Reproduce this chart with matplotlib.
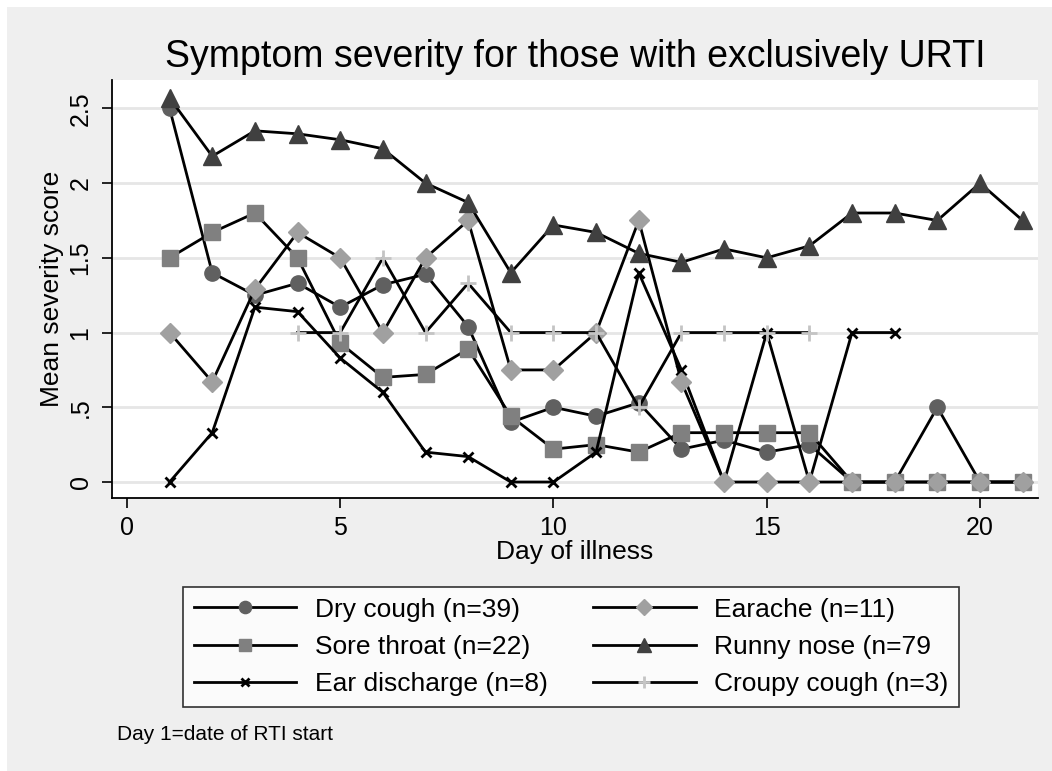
import matplotlib
matplotlib.use("Agg")
from matplotlib import pyplot as plt
from matplotlib.patches import Rectangle

plt.rcParams["font.family"] = ["Liberation Sans", "DejaVu Sans"]

days = list(range(1, 22))

dry_cough = [2.5, 1.40, 1.25, 1.33, 1.17, 1.32, 1.39, 1.04, 0.40, 0.50, 0.44,
             0.53, 0.22, 0.28, 0.20, 0.25, 0, 0, 0.5, 0, 0]
sore_throat = [1.5, 1.67, 1.8, 1.5, 0.93, 0.70, 0.72, 0.89, 0.44, 0.22, 0.25,
               0.20, 0.33, 0.33, 0.33, 0.33, 0, 0, 0, 0, 0]
earache = [1.0, 0.67, 1.29, 1.67, 1.5, 1.0, 1.5, 1.75, 0.75, 0.75, 1.0,
           1.75, 0.67, 0, 0, 0, 0, 0, 0, 0, 0]
runny_nose = [2.57, 2.18, 2.35, 2.33, 2.29, 2.23, 2.0, 1.87, 1.40, 1.72, 1.67,
              1.53, 1.47, 1.56, 1.50, 1.58, 1.80, 1.80, 1.75, 2.0, 1.75]
ear_days = list(range(1, 19))
ear_discharge = [0, 0.33, 1.17, 1.14, 0.83, 0.60, 0.20, 0.17, 0, 0, 0.20,
                 1.40, 0.75, 0, 1.0, 0, 1.0, 1.0]
croupy_days = list(range(4, 17))
croupy_cough = [1.0, 1.0, 1.5, 1.0, 1.33, 1.0, 1.0, 1.0, 0.5, 1.0, 1.0, 1.0, 1.0]

labels = ["Dry cough (n=39)", "Sore throat (n=22)", "Ear discharge (n=8)",
          "Earache (n=11)", "Runny nose (n=79", "Croupy cough (n=3)"]

fig = plt.figure(figsize=(10.52, 7.71), dpi=100, facecolor="white")
fig.patches.append(Rectangle((7 / 1052, 0), 1, 1 - 7 / 771, transform=fig.transFigure,
                             facecolor="#efefef", edgecolor="none", zorder=-10))

ax = fig.add_axes([112 / 1052, 1 - 498 / 771, (1038 - 112) / 1052, (498 - 80) / 771])
ax.set_facecolor("white")

lw = 2
h1, = ax.plot(days, dry_cough, color="black", lw=lw, marker="o", ms=11,
              mfc="#606060", mec="#606060")
h2, = ax.plot(days, sore_throat, color="black", lw=lw, marker="s", ms=11,
              mfc="#808080", mec="#808080")
h3, = ax.plot(ear_days, ear_discharge, color="black", lw=lw, marker="x", ms=7,
              mew=2, mec="black")
h4, = ax.plot(days, earache, color="black", lw=lw, marker="D", ms=10,
              mfc="#a0a0a0", mec="#a0a0a0")
h5, = ax.plot(days, runny_nose, color="black", lw=lw, marker="^", ms=13,
              mfc="#404040", mec="#404040")
h6, = ax.plot(croupy_days, croupy_cough, color="black", lw=lw, marker="+", ms=11,
              mew=2, mec="#c4c4c4")

ax.set_xlim(-0.35, 21.36)
ax.set_ylim(-0.107, 2.69)
ax.set_xticks([0, 5, 10, 15, 20])
ax.set_yticks([0, 0.5, 1, 1.5, 2, 2.5])
ax.set_yticklabels(["0", ".5", "1", "1.5", "2", "2.5"], rotation=90, va="center")
ax.tick_params(labelsize=18, length=7, width=1.2, direction="out")
ax.tick_params(axis="x", pad=6)
ax.tick_params(axis="y", pad=7)
ax.grid(axis="y", color="#e6e6e6", lw=2)
ax.set_axisbelow(True)
for side in ["top", "right"]:
    ax.spines[side].set_visible(False)
for side in ["left", "bottom"]:
    ax.spines[side].set_linewidth(1.3)

ax.set_xlabel("Day of illness", fontsize=19, labelpad=0)
ax.set_ylabel("Mean severity score", fontsize=19, labelpad=3)
fig.text(575 / 1052, 1 - 57 / 771, "Symptom severity for those with exclusively URTI",
         fontsize=27, ha="center", va="center")

leg = fig.legend([h1, h2, h3, h4, h5, h6], labels,
                 ncol=2, loc="upper left", bbox_to_anchor=(183 / 1052, 1 - 587 / 771),
                 borderaxespad=0, fontsize=19, handlelength=3.9, columnspacing=1.7,
                 labelspacing=0.5, frameon=True, fancybox=False, edgecolor="black",
                 facecolor="white", borderpad=0.4, handletextpad=0.7, markerscale=0.8)
leg.get_frame().set_linewidth(1.2)

fig.text(117 / 1052, 1 - 735 / 771, "Day 1=date of RTI start", fontsize=15,
         ha="left", va="center")

fig.savefig("out.png", dpi=100, facecolor=fig.get_facecolor())
